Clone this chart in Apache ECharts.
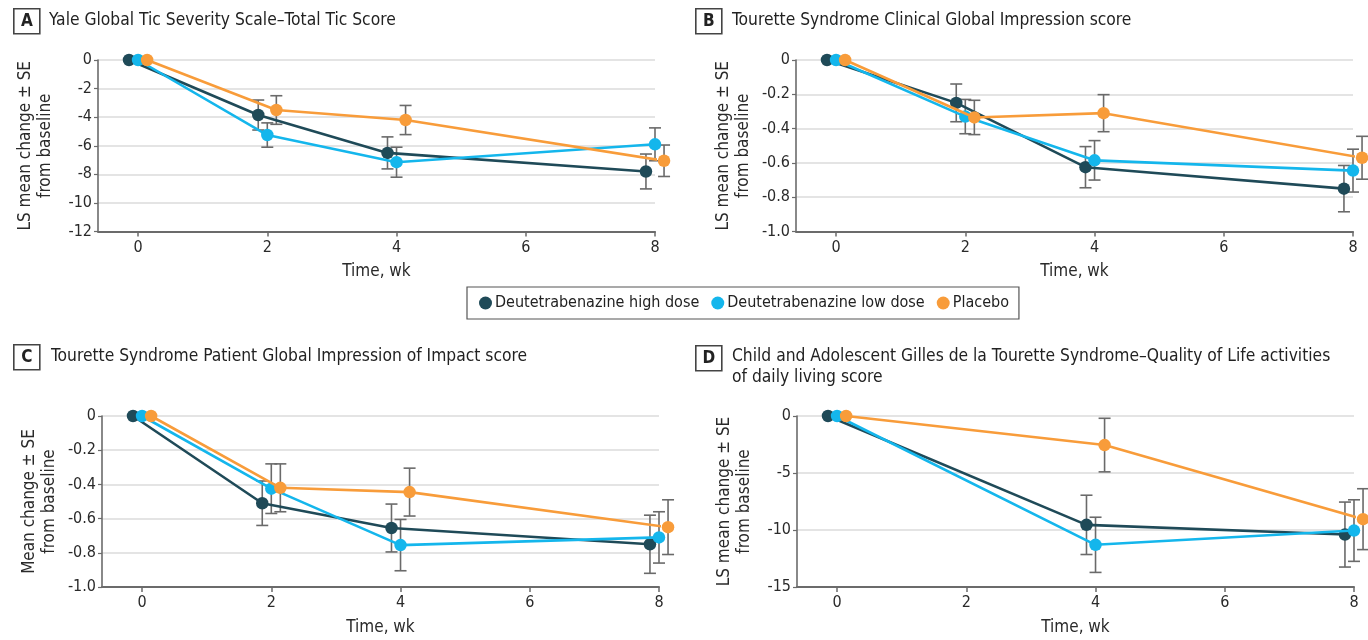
<!DOCTYPE html>
<html>
<head>
<meta charset="utf-8">
<script src="https://cdn.jsdelivr.net/npm/echarts@6.0.0/dist/echarts.min.js"></script>
<style>
html,body{margin:0;padding:0;background:#fff;}
#chart{width:1368px;height:640px;}
</style>
</head>
<body>
<div id="chart"></div>
<script>
// ---------------- DATA ----------------
const seriesNames = ['Deutetrabenazine high dose', 'Deutetrabenazine low dose', 'Placebo'];
const weeksABC = [0, 2, 4, 8];
const weeksD = [0, 4, 8];
const xTicks = [0, 2, 4, 6, 8];

// Panel A: YGTSS Total Tic Score
const aHighMean = [0, -3.85, -6.5, -7.8];
const aHighSE   = [0, 1.05, 1.12, 1.22];
const aLowMean  = [0, -5.25, -7.15, -5.9];
const aLowSE    = [0, 0.85, 1.05, 1.15];
const aPlaMean  = [0, -3.5, -4.2, -7.05];
const aPlaSE    = [0, 1.0, 1.02, 1.1];

// Panel B: TS-CGI
const bHighMean = [0, -0.25, -0.625, -0.75];
const bHighSE   = [0, 0.11, 0.12, 0.135];
const bLowMean  = [0, -0.33, -0.585, -0.645];
const bLowSE    = [0, 0.10, 0.115, 0.125];
const bPlaMean  = [0, -0.335, -0.31, -0.57];
const bPlaSE    = [0, 0.10, 0.108, 0.125];

// Panel C: TS-PGII
const cHighMean = [0, -0.51, -0.655, -0.75];
const cHighSE   = [0, 0.13, 0.14, 0.17];
const cLowMean  = [0, -0.425, -0.755, -0.71];
const cLowSE    = [0, 0.145, 0.15, 0.15];
const cPlaMean  = [0, -0.42, -0.445, -0.65];
const cPlaSE    = [0, 0.14, 0.14, 0.16];

// Panel D: C&A-GTS-QOL ADL
const dHighMean = [0, -9.55, -10.4];
const dHighSE   = [0, 2.6, 2.85];
const dLowMean  = [0, -11.3, -10.05];
const dLowSE    = [0, 2.42, 2.7];
const dPlaMean  = [0, -2.55, -9.05];
const dPlaSE    = [0, 2.35, 2.67];

const titleA = 'Yale Global Tic Severity Scale–Total Tic Score';
const titleB = 'Tourette Syndrome Clinical Global Impression score';
const titleC = 'Tourette Syndrome Patient Global Impression of Impact score';
const titleD = 'Child and Adolescent Gilles de la Tourette Syndrome–Quality of Life activities\nof daily living score';
const yNameLS = 'LS mean change ± SE\nfrom baseline';
const yNameC = 'Mean change ± SE\nfrom baseline';
const xName = 'Time, wk';

// ---------------- STYLE ----------------
const FONT = '"Liberation Sans Narrow", "DejaVu Sans Condensed", "Roboto", sans-serif';
const colors = ['#1f4a58', '#14b6ec', '#f89c3a'];
const dodge = [-0.14, 0, 0.14];
const errColor = '#6a6a6a';
const textColor = '#2a2a2a';
const axisColor = '#6b6b6b';

const chart = echarts.init(document.getElementById('chart'), null, {renderer: 'canvas'});

const grids = [
  {left: 98, top: 60, width: 557, height: 171.5},
  {left: 796, top: 60, width: 557, height: 171.5},
  {left: 102, top: 416, width: 557, height: 171},
  {left: 797, top: 416, width: 557, height: 171}
];

function fmt1(v) { return v === 0 ? '0' : v.toFixed(1); }

const yCfg = [
  {min: -12, max: 0, interval: 2, fmt: v => String(v), name: yNameLS},
  {min: -1, max: 0, interval: 0.2, fmt: fmt1, name: yNameLS},
  {min: -1, max: 0, interval: 0.2, fmt: fmt1, name: yNameC},
  {min: -15, max: 0, interval: 5, fmt: v => String(v), name: yNameLS}
];

const xAxes = grids.map((g, i) => ({
  type: 'value', gridIndex: i, min: -0.62, max: 8,
  name: xName, nameLocation: 'middle', nameGap: 32,
  nameTextStyle: {fontFamily: FONT, fontSize: 17, color: textColor},
  axisLine: {show: true, onZero: false, lineStyle: {color: axisColor, width: 2}},
  axisTick: {show: true, length: 5, lineStyle: {color: axisColor, width: 1.5}, customValues: xTicks},
  axisLabel: {fontFamily: FONT, fontSize: 16, color: textColor, margin: 8, customValues: xTicks},
  splitLine: {show: false}
}));

const yAxes = yCfg.map((c, i) => ({
  type: 'value', gridIndex: i, min: c.min, max: c.max, interval: c.interval,
  name: c.name, nameLocation: 'middle', nameGap: 42, nameRotate: 90,
  nameTextStyle: {fontFamily: FONT, fontSize: 17, color: textColor, lineHeight: 20},
  axisLine: {show: true, onZero: false, lineStyle: {color: axisColor, width: 1.6}},
  axisTick: {show: true, length: 4, lineStyle: {color: axisColor, width: 1.2}},
  axisLabel: {fontFamily: FONT, fontSize: 16, color: textColor, margin: 6, formatter: c.fmt},
  splitLine: {show: true, lineStyle: {color: '#e4e4e4', width: 2}}
}));

const panels = [
  {weeks: weeksABC, means: [aHighMean, aLowMean, aPlaMean], ses: [aHighSE, aLowSE, aPlaSE]},
  {weeks: weeksABC, means: [bHighMean, bLowMean, bPlaMean], ses: [bHighSE, bLowSE, bPlaSE]},
  {weeks: weeksABC, means: [cHighMean, cLowMean, cPlaMean], ses: [cHighSE, cLowSE, cPlaSE]},
  {weeks: weeksD, means: [dHighMean, dLowMean, dPlaMean], ses: [dHighSE, dLowSE, dPlaSE]}
];

const series = [];
panels.forEach((p, gi) => {
  p.means.forEach((mean, si) => {
    const se = p.ses[si];
    const off = dodge[si];
    series.push({
      type: 'custom', name: 'err-' + gi + '-' + si,
      xAxisIndex: gi, yAxisIndex: gi, z: 2, clip: false, silent: true,
      data: p.weeks.map((w, i) => [w + off, mean[i] - se[i], mean[i] + se[i]]).filter((d, i) => se[i] > 0),
      encode: {x: 0, y: [1, 2]},
      renderItem: function (params, api) {
        const x = api.value(0);
        const lo = api.coord([x, api.value(1)]);
        const hi = api.coord([x, api.value(2)]);
        const hw = 6;
        const st = {stroke: errColor, lineWidth: 1.6};
        return {type: 'group', children: [
          {type: 'line', shape: {x1: lo[0], y1: lo[1], x2: hi[0], y2: hi[1]}, style: st},
          {type: 'line', shape: {x1: lo[0] - hw, y1: lo[1], x2: lo[0] + hw, y2: lo[1]}, style: st},
          {type: 'line', shape: {x1: hi[0] - hw, y1: hi[1], x2: hi[0] + hw, y2: hi[1]}, style: st}
        ]};
      }
    });
  });
  p.means.forEach((mean, si) => {
    const off = dodge[si];
    series.push({
      type: 'line', name: seriesNames[si],
      xAxisIndex: gi, yAxisIndex: gi, z: 3 + si, clip: false,
      data: p.weeks.map((w, i) => [w + off, mean[i]]),
      symbol: 'circle', symbolSize: 12.5, showSymbol: true,
      lineStyle: {color: colors[si], width: 2.6},
      itemStyle: {color: colors[si]},
      emphasis: {disabled: true},
      animation: false
    });
  });
});

const titleStyle = {fontFamily: FONT, fontSize: 17.3, fontWeight: 'normal', color: '#222', lineHeight: 21};
const titles = [
  {text: titleA, left: 49, top: 10},
  {text: titleB, left: 732, top: 10},
  {text: titleC, left: 51, top: 346},
  {text: titleD, left: 732, top: 346}
].map(t => Object.assign({textStyle: titleStyle, padding: 0}, t));

function letterBox(letter, x, y) {
  return {type: 'group', left: x, top: y, children: [
    {type: 'rect', shape: {x: 0, y: 0, width: 26, height: 25}, style: {fill: '#fff', stroke: '#444', lineWidth: 1.6}},
    {type: 'text', x: 13, y: 13, style: {text: letter, fontFamily: FONT, fontSize: 17, fontWeight: 'bold', fill: '#222', align: 'center', verticalAlign: 'middle'}}
  ]};
}

const option = {
  backgroundColor: '#fff',
  animation: false,
  color: colors,
  title: titles,
  grid: grids,
  xAxis: xAxes,
  yAxis: yAxes,
  legend: {
    data: seriesNames.map(n => ({name: n, icon: 'circle'})),
    left: 467, top: 287,
    orient: 'horizontal',
    itemWidth: 13, itemHeight: 13, itemGap: 12,
    padding: [8, 10, 8, 12],
    borderColor: '#555', borderWidth: 1.2,
    textStyle: {fontFamily: FONT, fontSize: 16, color: '#222', padding: [0, 0, 0, -2]},
    selectedMode: false
  },
  graphic: [
    letterBox('A', 13, 8),
    letterBox('B', 695, 8),
    letterBox('C', 13, 344),
    letterBox('D', 695, 345)
  ],
  series: series
};
chart.setOption(option);
</script>
</body>
</html>
